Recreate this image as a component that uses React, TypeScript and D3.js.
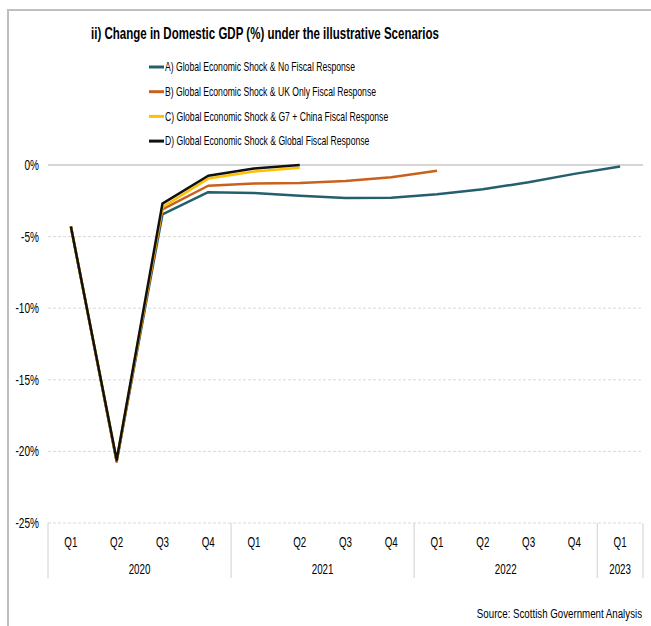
import React from 'react';
import * as d3 from 'd3';

const quarters = ['Q1', 'Q2', 'Q3', 'Q4', 'Q1', 'Q2', 'Q3', 'Q4', 'Q1', 'Q2', 'Q3', 'Q4', 'Q1'];
const years = [
  { label: '2020', span: 4 },
  { label: '2021', span: 4 },
  { label: '2022', span: 4 },
  { label: '2023', span: 1 },
];

const seriesA = [-4.3, -20.7, -3.45, -1.9, -1.95, -2.15, -2.3, -2.28, -2.05, -1.7, -1.2, -0.62, -0.1];
const seriesB = [-4.3, -20.7, -3.1, -1.45, -1.3, -1.25, -1.12, -0.85, -0.4];
const seriesC = [-4.3, -20.6, -2.95, -0.95, -0.45, -0.2];
const seriesD = [-4.3, -20.6, -2.7, -0.75, -0.25, 0];

const yTicks = [0, -5, -10, -15, -20, -25];

const series = [
  { name: 'A) Global Economic Shock & No Fiscal Response', values: seriesA, color: '#255e6e' },
  { name: 'B) Global Economic Shock & UK Only Fiscal Response', values: seriesB, color: '#c9601c' },
  { name: 'C) Global Economic Shock & G7 + China Fiscal Response', values: seriesC, color: '#ffc000' },
  { name: 'D) Global Economic Shock & Global Fiscal Response', values: seriesD, color: '#111111' },
];

const FONT = '"Liberation Sans", Arial, sans-serif';

// narrow text: the original uses Arial Narrow, so squeeze Liberation Sans horizontally
const NText = ({ x, y, size, anchor = 'start', sx = 0.72, bold = false, children }: any) => (
  <text
    transform={`translate(${x},${y}) scale(${sx},1)`}
    dy="0.35em"
    textAnchor={anchor}
    fontSize={size}
    fontWeight={bold ? 'bold' : 'normal'}
    fill="#000"
  >
    {children}
  </text>
);

export default function App() {
  const width = 651;
  const height = 626;
  const left = 48;
  const right = 643;
  const top = 165;
  const bottom = 523;

  const x = d3.scaleBand<number>().domain(d3.range(quarters.length)).range([left, right]);
  const y = d3.scaleLinear().domain([-25, 0]).range([bottom, top]);
  const cx = (i: number) => (x(i) as number) + x.bandwidth() / 2;

  const line = d3.line<number>()
    .x((_, i) => cx(i))
    .y(d => y(d));

  let acc = 0;
  const groups = years.map(g => {
    const start = acc;
    acc += g.span;
    return { ...g, start, end: acc };
  });
  const edge = (i: number) => (i >= quarters.length ? right : (x(i) as number));

  return (
    <svg width={width} height={height} style={{ position: 'absolute', left: 0, top: 0, background: '#fff' }} fontFamily={FONT}>
      <rect x={0} y={0} width={width} height={height} fill="#fff" />
      {/* frame */}
      <line x1={8} x2={651} y1={10} y2={10} stroke="#bfbfbf" strokeWidth={2} />
      <line x1={8} x2={8} y1={9} y2={626} stroke="#bfbfbf" strokeWidth={2} />

      <NText x={265} y={33} size={16} anchor="middle" sx={0.72} bold>
        ii) Change in Domestic GDP (%) under the illustrative Scenarios
      </NText>

      {series.map((s, i) => (
        <g key={s.name} transform={`translate(149, ${67 + i * 24.7})`}>
          <line x1={0} x2={15} y1={0} y2={0} stroke={s.color} strokeWidth={3} />
          <NText x={16} y={0} size={12.5} sx={0.69}>{s.name}</NText>
        </g>
      ))}

      {/* gridlines */}
      {yTicks.map(t => (
        <g key={t}>
          <line
            x1={left}
            x2={right}
            y1={y(t)}
            y2={y(t)}
            stroke={t === 0 ? '#c8c8c8' : '#d9d9d9'}
            strokeWidth={t === 0 ? 1.5 : 1}
            strokeDasharray={t === 0 ? undefined : '3,2'}
          />
          <NText x={39} y={y(t)} size={14} anchor="end" sx={0.72}>{`${t}%`}</NText>
        </g>
      ))}

      {/* category axis */}
      {quarters.map((q, i) => (
        <NText key={i} x={cx(i)} y={542} size={14} anchor="middle" sx={0.7}>{q}</NText>
      ))}
      {groups.map(g => (
        <NText key={g.label} x={(edge(g.start) + edge(g.end)) / 2} y={569} size={14} anchor="middle" sx={0.7}>
          {g.label}
        </NText>
      ))}
      {[0, ...groups.map(g => g.end)].map(i => (
        <line key={i} x1={edge(i)} x2={edge(i)} y1={bottom} y2={578} stroke="#d0d0d0" strokeWidth={1} />
      ))}

      {/* series */}
      {series.map(s => (
        <path key={s.name} d={line(s.values) || ''} fill="none" stroke={s.color} strokeWidth={2.5} strokeLinejoin="round" />
      ))}

      <NText x={642} y={613} size={13.5} anchor="end" sx={0.72}>
        Source: Scottish Government Analysis
      </NText>
    </svg>
  );
}
